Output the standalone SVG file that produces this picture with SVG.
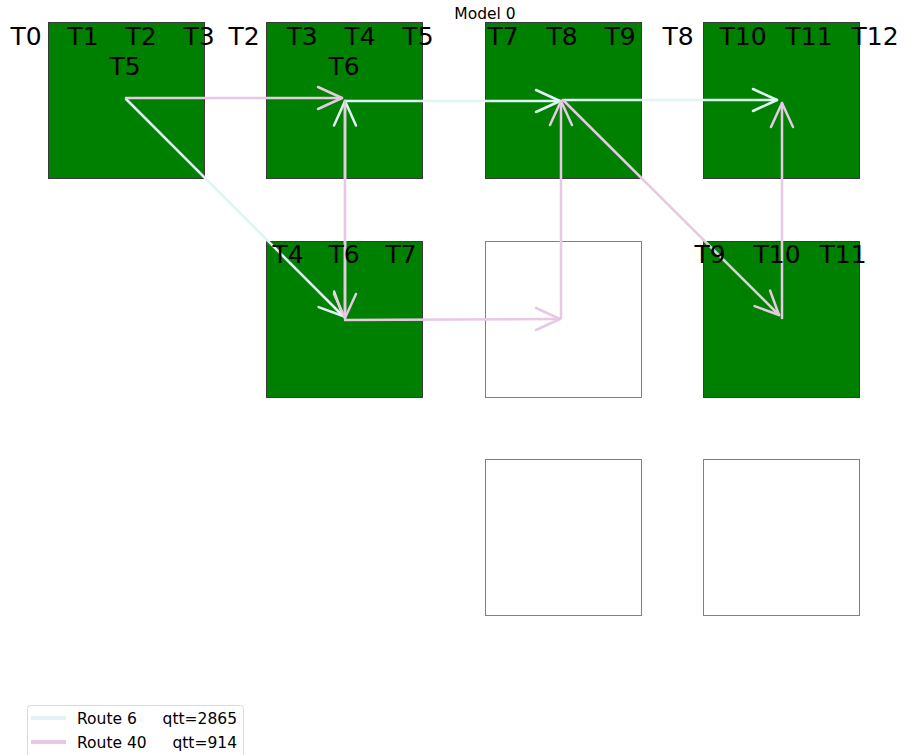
<svg xmlns="http://www.w3.org/2000/svg" width="905" height="755" viewBox="0 0 905 755">
<style>
.g{fill:#008000;stroke:#3a3a3a;stroke-width:1}
.w{fill:#ffffff;stroke:#808080;stroke-width:1}
.lbl{font-family:"DejaVu Sans",sans-serif;font-size:25px;fill:#000;text-anchor:middle}
.r6{fill:none;stroke:#e0f4f4;stroke-width:2.5;stroke-linecap:round;stroke-linejoin:round}
.r40{fill:none;stroke:#e8c8e3;stroke-width:2.5;stroke-linecap:round;stroke-linejoin:round}
.t{font-family:"DejaVu Sans",sans-serif;font-size:15.5px;fill:#000}
</style>
<rect x="0" y="0" width="905" height="755" fill="#ffffff"/>
<text class="t" x="485" y="19" text-anchor="middle">Model 0</text>
<g id="node-A"><rect class="g" x="48.5" y="22.5" width="156" height="156"/></g>
<g id="node-B"><rect class="g" x="266.5" y="22.5" width="156" height="156"/></g>
<g id="node-C"><rect class="g" x="485.5" y="22.5" width="156" height="156"/></g>
<g id="node-D"><rect class="g" x="703.5" y="22.5" width="156" height="156"/></g>
<g id="node-B2"><rect class="g" x="266.5" y="241.5" width="156" height="156"/></g>
<g id="node-C2"><rect class="w" x="485.5" y="241.5" width="156" height="156"/></g>
<g id="node-D2"><rect class="g" x="703.5" y="241.5" width="156" height="156"/></g>
<g id="node-C3"><rect class="w" x="485.5" y="459.5" width="156" height="156"/></g>
<g id="node-D3"><rect class="w" x="703.5" y="459.5" width="156" height="156"/></g>
<g id="connectors">
<g id="route6">
<polyline class="r6" points="126,99 343,316"/>
<polyline class="r6" points="318.6,307.1 343,316 334.1,291.6"/>
<polyline class="r6" points="345,318 345,101"/>
<polyline class="r6" points="334,125.5 345,101 356,125.5"/>
<polyline class="r6" points="345,101 560,101"/>
<polyline class="r6" points="536,90 560,101 536,112"/>
<polyline class="r6" points="563,100 777,100"/>
<polyline class="r6" points="753,89 777,100 753,111"/>
</g>
<g id="route40">
<polyline class="r40" points="126,98 342,98"/>
<polyline class="r40" points="318,87 342,98 318,109"/>
<polyline class="r40" points="345,101 345,318"/>
<polyline class="r40" points="334,294 345,318 356,294"/>
<polyline class="r40" points="345,320 560,319"/>
<polyline class="r40" points="536,308 560,319 536,330"/>
<polyline class="r40" points="561,318 561,101"/>
<polyline class="r40" points="550,125 561,101 572,125"/>
<polyline class="r40" points="563,100 779,315"/>
<polyline class="r40" points="770.1,290.6 779,315 754.6,306.1"/>
<polyline class="r40" points="782,318 782,103"/>
<polyline class="r40" points="771,127 782,103 793,127"/>
</g>
</g>
<g id="labels">
<text class="lbl" x="26" y="45">T0</text>
<text class="lbl" x="83" y="45">T1</text>
<text class="lbl" x="141" y="45">T2</text>
<text class="lbl" x="199" y="45">T3</text>
<text class="lbl" x="125" y="75">T5</text>
<text class="lbl" x="244" y="45">T2</text>
<text class="lbl" x="302" y="45">T3</text>
<text class="lbl" x="360" y="45">T4</text>
<text class="lbl" x="418" y="45">T5</text>
<text class="lbl" x="344" y="75">T6</text>
<text class="lbl" x="503" y="45">T7</text>
<text class="lbl" x="562" y="45">T8</text>
<text class="lbl" x="620" y="45">T9</text>
<text class="lbl" x="678" y="45">T8</text>
<text class="lbl" x="743" y="45">T10</text>
<text class="lbl" x="809" y="45">T11</text>
<text class="lbl" x="875" y="45">T12</text>
<text class="lbl" x="288" y="263">T4</text>
<text class="lbl" x="344" y="263">T6</text>
<text class="lbl" x="401" y="263">T7</text>
<text class="lbl" x="710" y="263">T9</text>
<text class="lbl" x="777" y="263">T10</text>
<text class="lbl" x="843" y="263">T11</text>
</g>
<g id="legend">
<rect x="27.5" y="705.5" width="216" height="60" rx="3" fill="#ffffff" fill-opacity="0.8" stroke="#d9d9d9" stroke-width="1"/>
<line x1="31" y1="718" x2="66" y2="718" stroke="#e0f4f4" stroke-width="4"/>
<line x1="31" y1="742" x2="66" y2="742" stroke="#e8c8e3" stroke-width="4"/>
<text class="t" x="77" y="724">Route 6</text>
<text class="t" x="237" y="724" text-anchor="end">qtt=2865</text>
<text class="t" x="77" y="748">Route 40</text>
<text class="t" x="237" y="748" text-anchor="end">qtt=914</text>
</g>
</svg>
